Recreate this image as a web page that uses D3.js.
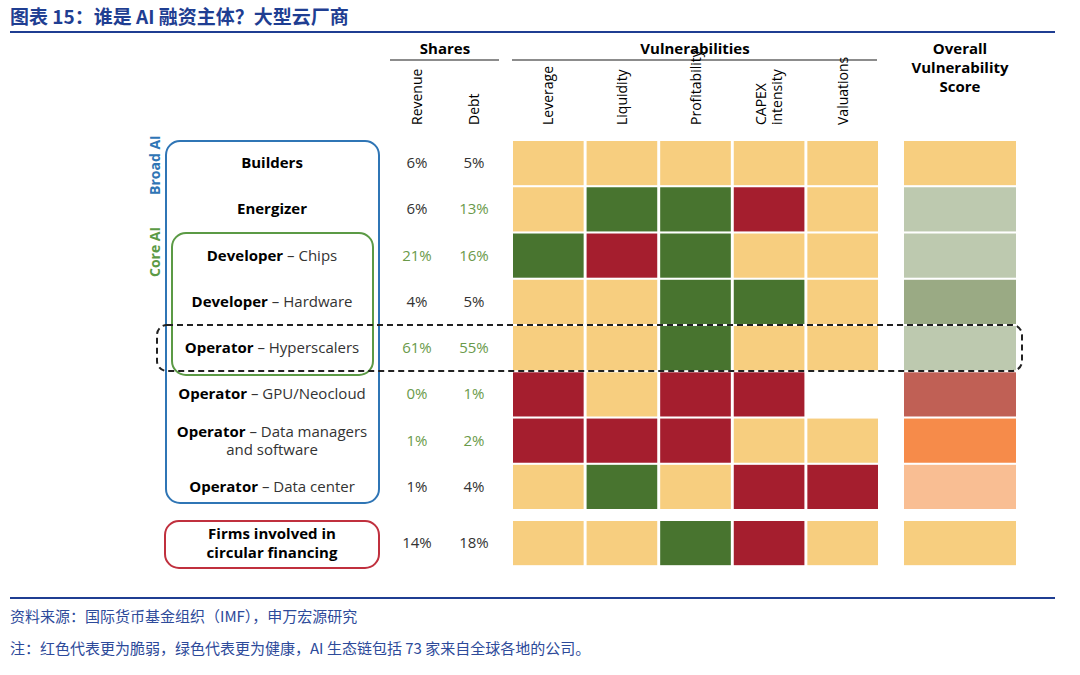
<!DOCTYPE html><html><head><meta charset="utf-8">
<script src="https://cdn.jsdelivr.net/npm/d3@7"></script>
<style>body{margin:0;background:#fff}text{font-family:"Liberation Sans Narrow","Open Sans",sans-serif}</style></head><body>
<svg id="c" width="1080" height="675"></svg>
<script>
const rowsBold=["Builders","Energizer","Developer","Developer","Operator","Operator","Operator","Operator"];
const rowsRest=[[""],[""],[" – Chips"],[" – Hardware"],[" – Hyperscalers"],[" – GPU/Neocloud"],[" – Data managers","and software"],[" – Data center"]];
const revenue=["6%","6%","21%","4%","61%","0%","1%","1%"];
const debt=["5%","13%","16%","5%","55%","1%","2%","4%"];
const revGreen=[0,0,1,0,1,1,1,0], debtGreen=[0,1,1,0,1,1,1,0];
const vulnCols=[["Leverage"],["Liquidity"],["Profitability"],["CAPEX","intensity"],["Valuations"]];
const grid=[["O","O","O","O","O"],["O","G","G","R","O"],["G","R","G","O","O"],["O","O","G","G","O"],["O","O","G","O","O"],["R","O","R","R","W"],["R","R","R","O","O"],["O","G","O","R","R"]];
const score=["#F7CE7F","#BDC9AF","#BDC9AF","#9AAA84","#BDC9AF","#C06055","#F68B4A","#F9BE93"];
const circ={label:["Firms involved in","circular financing"],rev:"14%",debt:"18%",grid:["O","O","G","R","O"],score:"#F7CE7F"};
const pal={O:"#F7CE7F",G:"#48742F",R:"#A51E2E",W:"#ffffff"};
const svg=d3.select("#c"),blue="#1F3E92",tg="#6A9A4A";
const y=d3.scaleBand().domain(d3.range(8)).range([141,509]).paddingInner(0.045).paddingOuter(0);
const x=d3.scaleBand().domain(d3.range(5)).range([513,878]).paddingInner(0.04);
// title
svg.append("text").attr("x",10).attr("y",24).attr("fill",blue).attr("font-size",19).attr("font-weight","bold").style("font-family","Noto Sans CJK SC").text("图表 15：谁是 AI 融资主体？大型云厂商");
svg.append("rect").attr("x",10).attr("y",31).attr("width",1045).attr("height",2).attr("fill",blue);
// headers
svg.append("text").attr("x",445).attr("y",54).attr("text-anchor","middle").attr("font-size",15).attr("font-weight","bold").text("Shares");
svg.append("line").attr("x1",390).attr("x2",499).attr("y1",60).attr("y2",60).attr("stroke","#666").attr("stroke-width",1.5);
svg.append("text").attr("x",695).attr("y",54).attr("text-anchor","middle").attr("font-size",15).attr("font-weight","bold").text("Vulnerabilities");
svg.append("line").attr("x1",512).attr("x2",877).attr("y1",60).attr("y2",60).attr("stroke","#666").attr("stroke-width",1.5);
["Overall","Vulnerability","Score"].forEach((t,i)=>svg.append("text").attr("x",960).attr("y",54+i*19).attr("text-anchor","middle").attr("font-size",15).attr("font-weight","bold").text(t));
const rot=(cx,lines)=>{const g=svg.append("g").attr("transform",`translate(${cx},125) rotate(-90)`);lines.forEach((t,i)=>g.append("text").attr("x",0).attr("y",(i-(lines.length-1)/2)*16+5).attr("font-size",14).text(t));};
rot(417,["Revenue"]);rot(474,["Debt"]);
vulnCols.forEach((l,i)=>rot(x(i)+x.bandwidth()/2,l));
// cells
grid.forEach((r,ri)=>r.forEach((c,ci)=>svg.append("rect").attr("x",x(ci)).attr("y",y(ri)).attr("width",x.bandwidth()).attr("height",y.bandwidth()).attr("fill",pal[c])));
score.forEach((c,ri)=>svg.append("rect").attr("x",904).attr("y",y(ri)).attr("width",112).attr("height",y.bandwidth()).attr("fill",c));
const cy=521;
circ.grid.forEach((c,ci)=>svg.append("rect").attr("x",x(ci)).attr("y",cy).attr("width",x.bandwidth()).attr("height",y.bandwidth()).attr("fill",pal[c]));
svg.append("rect").attr("x",904).attr("y",cy).attr("width",112).attr("height",y.bandwidth()).attr("fill",circ.score);
// labels
rowsBold.forEach((b,i)=>{const m=y(i)+y.bandwidth()/2;const rest=rowsRest[i];const two=rest.length>1;
 const t=svg.append("text").attr("x",272).attr("y",m+5-(two?9:0)).attr("text-anchor","middle").attr("font-size",15);
 t.append("tspan").attr("font-weight","bold").text(b);t.append("tspan").attr("fill","#333").text(rest[0]);
 if(two)svg.append("text").attr("x",272).attr("y",m+14).attr("text-anchor","middle").attr("font-size",15).attr("fill","#333").text(rest[1]);
 svg.append("text").attr("x",417).attr("y",m+5).attr("text-anchor","middle").attr("font-size",15).attr("fill",revGreen[i]?tg:"#333").text(revenue[i]);
 svg.append("text").attr("x",474).attr("y",m+5).attr("text-anchor","middle").attr("font-size",15).attr("fill",debtGreen[i]?tg:"#333").text(debt[i]);});
const cm=cy+y.bandwidth()/2;
circ.label.forEach((t,i)=>svg.append("text").attr("x",272).attr("y",cm-4+i*19).attr("text-anchor","middle").attr("font-size",15).attr("font-weight","bold").text(t));
svg.append("text").attr("x",417).attr("y",cm+5).attr("text-anchor","middle").attr("font-size",15).attr("fill","#333").text(circ.rev);
svg.append("text").attr("x",474).attr("y",cm+5).attr("text-anchor","middle").attr("font-size",15).attr("fill","#333").text(circ.debt);
// boxes
svg.append("rect").attr("x",166).attr("y",141).attr("width",213).attr("height",362).attr("rx",14).attr("fill","none").attr("stroke","#2F75B5").attr("stroke-width",2);
svg.append("rect").attr("x",172).attr("y",233).attr("width",201).attr("height",142).attr("rx",14).attr("fill","none").attr("stroke","#5B9A45").attr("stroke-width",2);
svg.append("rect").attr("x",165).attr("y",521).attr("width",214).attr("height",47).attr("rx",14).attr("fill","none").attr("stroke","#C0303E").attr("stroke-width",2);
svg.append("rect").attr("x",157).attr("y",325).attr("width",865).attr("height",46).attr("rx",10).attr("fill","none").attr("stroke","#222").attr("stroke-width",2).attr("stroke-dasharray","6,4");
svg.append("text").attr("transform","translate(160,195) rotate(-90)").attr("font-size",14).attr("font-weight","bold").attr("fill","#2F75B5").text("Broad AI");
svg.append("text").attr("transform","translate(160,277) rotate(-90)").attr("font-size",14).attr("font-weight","bold").attr("fill","#5B9A45").text("Core AI");
// footer
svg.append("rect").attr("x",10).attr("y",597).attr("width",1045).attr("height",2).attr("fill",blue);
svg.append("text").attr("x",10).attr("y",622).attr("font-size",15).attr("fill","#2D4A9A").style("font-family","Noto Sans CJK SC").text("资料来源：国际货币基金组织（IMF），申万宏源研究");
svg.append("text").attr("x",10).attr("y",654).attr("font-size",15).attr("fill","#2D4A9A").style("font-family","Noto Sans CJK SC").text("注：红色代表更为脆弱，绿色代表更为健康，AI 生态链包括 73 家来自全球各地的公司。");
</script></body></html>
